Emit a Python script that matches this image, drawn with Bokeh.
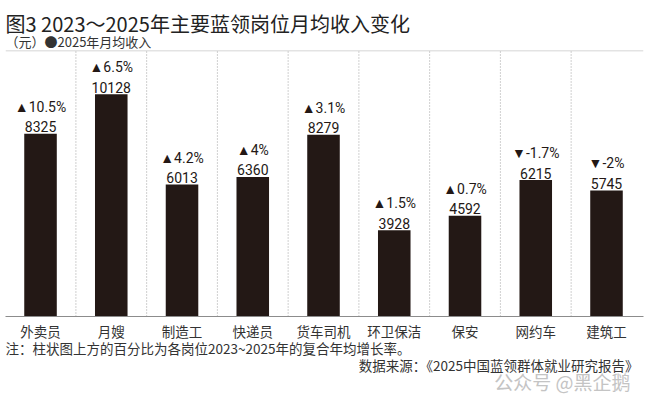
from bokeh.plotting import figure
from bokeh.models import Range1d, Span, ColumnDataSource, Title
from bokeh.core.properties import value
from bokeh.embed import file_html
from bokeh.resources import INLINE

categories = ["外卖员", "月嫂", "制造工", "快递员", "货车司机", "环卫保洁", "保安", "网约车", "建筑工"]
income_2025 = [8325, 10128, 6013, 6360, 8279, 3928, 4592, 6215, 5745]
growth_labels = ["▲10.5%", "▲6.5%", "▲4.2%", "▲4%", "▲3.1%", "▲1.5%", "▲0.7%", "▼-1.7%", "▼-2%"]

title_text = "图3 2023～2025年主要蓝领岗位月均收入变化"
subtitle_text = "（元）●2025年月均收入"
note_text = "注：柱状图上方的百分比为各岗位2023~2025年的复合年均增长率。"
source_text = "数据来源：《2025中国蓝领群体就业研究报告》"
watermark_text = "公众号 @黑企鹅"

CJK = "Noto Sans CJK SC"
NUM = "Roboto"
INK = "#231815"

y_max = 12120
xs = list(range(len(categories)))

p = figure(width=647, height=408, output_backend="svg", toolbar_location=None,
           title=None, x_range=Range1d(-0.495, 8.523), y_range=Range1d(0, y_max),
           y_axis_location=None, min_border_left=5, min_border_right=4,
           min_border_top=50, min_border_bottom=92, tools="")
p.outline_line_color = None
p.grid.visible = False
p.background_fill_color = "white"
p.border_fill_color = "white"

src = ColumnDataSource(dict(x=xs, top=income_2025, val=[str(v) for v in income_2025], pct=growth_labels))

p.segment(x0=[k + 0.5 for k in xs[:-1]], y0=0, x1=[k + 0.5 for k in xs[:-1]], y1=y_max,
          line_color="#a0a0a0", line_dash="1 2", line_width=1)
p.add_layout(Span(location=y_max, dimension="width", line_color="#c8c8c8", line_width=1.5))

p.vbar(x="x", top="top", width=0.46, bottom=0, source=src, fill_color=INK, line_color=None)

p.text(x="x", y="top", text="val", source=src, text_align="center", text_baseline="alphabetic",
       y_offset=-7, text_font=value(NUM), text_font_size="14px", text_color=INK)
p.text(x="x", y="top", text="pct", source=src, text_align="center", text_baseline="alphabetic",
       y_offset=-27, text_font=value(NUM), text_font_size="14px", text_color=INK)

ax = p.xaxis[0]
ax.ticker = xs
ax.major_label_overrides = {k: c for k, c in zip(xs, categories)}
ax.major_tick_line_color = None
ax.minor_tick_line_color = None
ax.major_tick_out = 0
ax.major_tick_in = 0
ax.major_label_standoff = 4
ax.axis_line_color = "#8c8c8c"
ax.axis_line_width = 1
ax.major_label_text_font = CJK
ax.major_label_text_font_size = "13.5px"
ax.major_label_text_color = "#333333"

def ttl(text, side, size, color, align="left", standoff=0, offset=0):
    p.add_layout(Title(text=text, text_font=CJK, text_font_size=size, text_color=color,
                       text_font_style="normal", align=align, standoff=standoff, offset=offset), side)

ttl(subtitle_text, "above", "13px", "#333333", standoff=0)
ttl(title_text, "above", "20px", "#222222", standoff=-16)
ttl(note_text, "below", "13.5px", "#333333", standoff=-15)
ttl(source_text, "below", "13.5px", "#333333", align="right", standoff=4, offset=5)
ttl(watermark_text, "below", "19px", "#c4c4c4", align="right", standoff=-22, offset=13)

open("out.html", "w").write(file_html(p, INLINE))
